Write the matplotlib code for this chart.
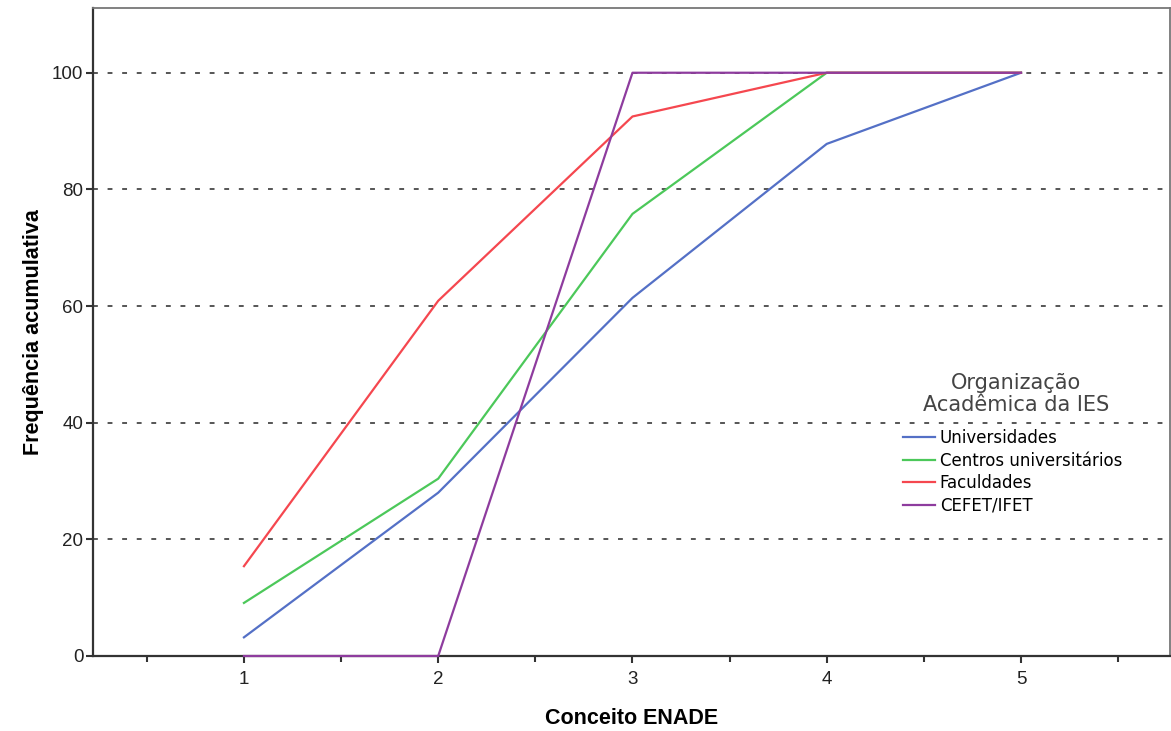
import numpy as np
import matplotlib.pyplot as plt

plt.rcParams['font.family'] = ['Liberation Sans', 'DejaVu Sans']

conceito = [1, 2, 3, 4, 5]
universidades = [3.2, 28.0, 61.4, 87.8, 100]
centros = [9.1, 30.4, 75.8, 100, 100]
faculdades = [15.4, 60.9, 92.5, 100, 100]
cefet = [0, 0, 100, 100, 100]

nomes = ["Universidades", "Centros universitários", "Faculdades", "CEFET/IFET"]
cores = ["#5470c6", "#4cc85a", "#f5474f", "#8e3c9e"]

fig = plt.figure(figsize=(11.71, 7.31), dpi=100)
ax = fig.add_axes([93/1171, 75/731, 1077/1171, 648/731])

ax.set_xlim(0.223, 5.767)
ax.set_ylim(0, 111.1)

# grade pontilhada
for yv in [20, 40, 60, 80, 100]:
    ax.axhline(yv, color="#555555", lw=1.4, dashes=(2.5, 5), zorder=1)

series = [universidades, centros, faculdades, cefet]
for s, nome, c in zip(series, nomes, cores):
    ax.plot(conceito, s, color=c, lw=1.6, label=nome, zorder=3, clip_on=False)

ax.set_xticks(conceito)
ax.set_xticks(np.arange(0.5, 6, 1), minor=True)
ax.set_yticks([0, 20, 40, 60, 80, 100])
ax.tick_params(axis='both', which='major', direction='out', length=5, width=1.5,
               labelsize=13.5, color="#333333", labelcolor="#222222", pad=2)
ax.tick_params(axis='x', which='minor', direction='out', length=4, width=1.5, color="#333333")
ax.tick_params(axis='x', pad=6)

for side in ['left', 'bottom']:
    ax.spines[side].set_linewidth(1.6)
    ax.spines[side].set_color("#333333")
for side in ['top', 'right']:
    ax.spines[side].set_linewidth(1.3)
    ax.spines[side].set_color("#777777")

ax.set_xlabel("Conceito ENADE", fontsize=15.5, fontweight='bold', labelpad=14)
ax.set_ylabel("Frequência acumulativa", fontsize=15.5, fontweight='bold', labelpad=6)

# titulo da legenda separado
fig.text(1016/1171, 1 - 394/731, "Organização\nAcadêmica da IES", family='DejaVu Sans',
         fontsize=15, color="#444444", ha='center', va='center', linespacing=1.1)

leg = ax.legend(loc='upper left', bbox_to_anchor=(903/1171, 1 - 429/731),
                bbox_transform=fig.transFigure, frameon=False,
                prop={'family': 'DejaVu Sans', 'size': 12},
                handlelength=1.9, handletextpad=0.3, labelspacing=0.27, borderpad=0,
                borderaxespad=0)

fig.savefig("out.png", dpi=100)
